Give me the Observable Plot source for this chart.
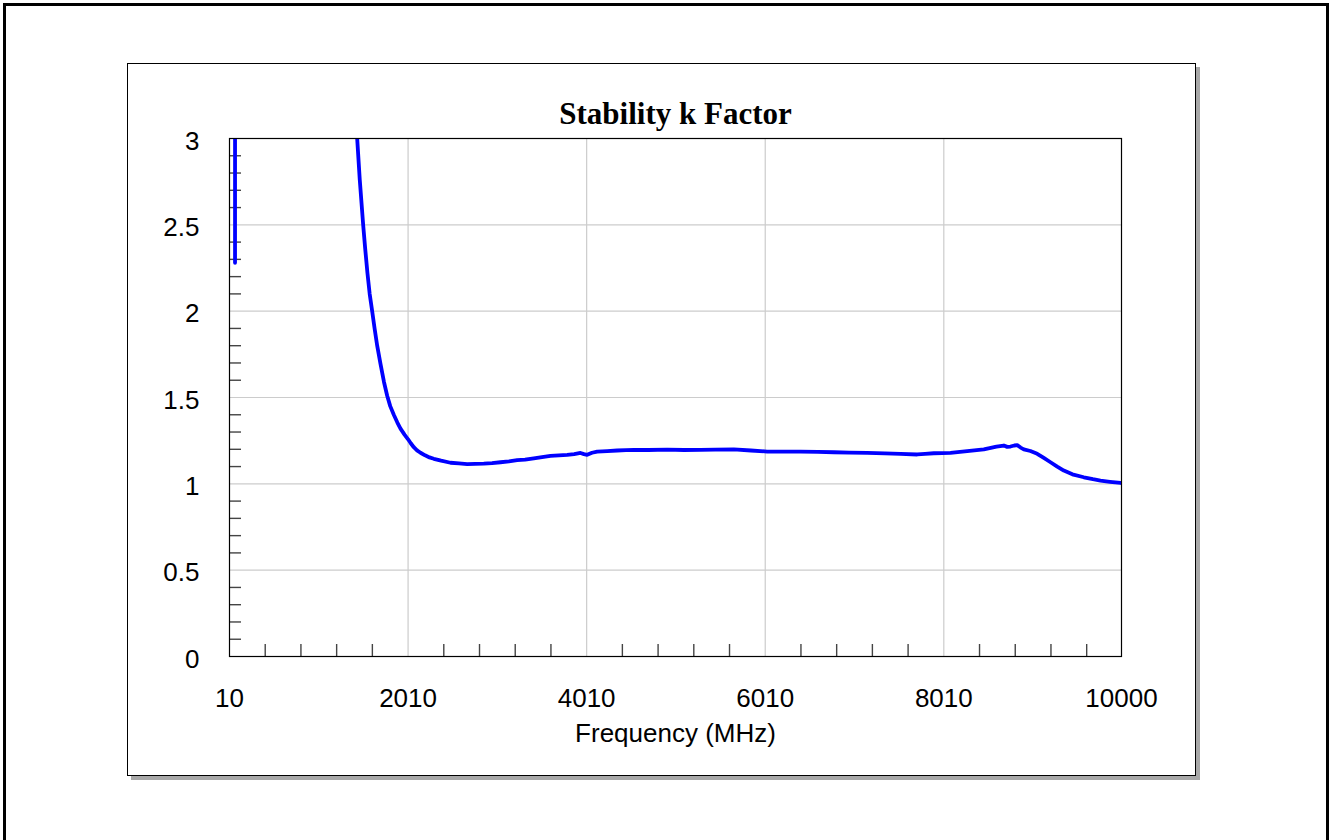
<!DOCTYPE html>
<html>
<head>
<meta charset="utf-8">
<script src="https://cdn.jsdelivr.net/npm/d3@7"></script>
<script src="https://cdn.jsdelivr.net/npm/@observablehq/plot@0.6"></script>
<style>
  html, body { margin: 0; padding: 0; background: #fff; overflow: hidden; }
  #page { position: relative; width: 1331px; height: 840px; overflow: hidden; }
  #outer { position: absolute; left: 3px; top: 3px; width: 1326px; height: 860px; box-sizing: border-box; border: 3px solid #000; }
  #inner { position: absolute; left: 127px; top: 63px; width: 1069px; height: 713px; box-sizing: border-box; border: 1px solid #000; background: #fff; box-shadow: 4px 4px 0 #a8a8a8; }
  #chart { position: absolute; left: 0; top: 0; }
</style>
</head>
<body>
<div id="page">
  <div id="outer"></div>
  <div id="inner"></div>
  <div id="chart"></div>
</div>
<script>
// Frequency (MHz) and stability factor k
const freqMHz = [72, 80, 300, 700, 1100, 1350, 1440, 1469, 1507, 1530, 1555, 1580, 1608, 1635, 1664, 1701, 1740, 1776, 1810, 1850, 1890, 1925, 1970, 2010, 2040, 2074, 2110, 2149, 2200, 2250, 2298, 2380, 2485, 2580, 2672, 2760, 2858, 2950, 3045, 3140, 3232, 3320, 3418, 3510, 3605, 3700, 3792, 3870, 3941, 3980, 4016, 4070, 4128, 4240, 4352, 4450, 4538, 4700, 4912, 5100, 5285, 5450, 5658, 5850, 6032, 6200, 6405, 6600, 6778, 6950, 7152, 7350, 7525, 7712, 7800, 7898, 8085, 8272, 8458, 8600, 8682, 8720, 8757, 8800, 8832, 8870, 8906, 8980, 9056, 9130, 9205, 9280, 9354, 9450, 9578, 9680, 9765, 9870, 9990];
const kFactor = [2.28, 50, 45, 20, 7, 3.7, 3.0, 2.76, 2.5, 2.36, 2.22, 2.1, 2.0, 1.9, 1.8, 1.695, 1.59, 1.51, 1.45, 1.4, 1.355, 1.32, 1.285, 1.258, 1.235, 1.212, 1.194, 1.18, 1.165, 1.153, 1.145, 1.134, 1.122, 1.118, 1.114, 1.116, 1.117, 1.12, 1.125, 1.13, 1.137, 1.14, 1.148, 1.155, 1.162, 1.165, 1.168, 1.172, 1.179, 1.172, 1.168, 1.18, 1.187, 1.19, 1.193, 1.195, 1.197, 1.196, 1.198, 1.196, 1.197, 1.198, 1.2, 1.193, 1.187, 1.187, 1.187, 1.185, 1.183, 1.181, 1.179, 1.176, 1.174, 1.17, 1.174, 1.177, 1.179, 1.189, 1.199, 1.215, 1.222, 1.214, 1.216, 1.222, 1.224, 1.21, 1.2, 1.19, 1.174, 1.15, 1.125, 1.1, 1.077, 1.055, 1.038, 1.027, 1.019, 1.012, 1.005];

const xTickLabels = [10, 2010, 4010, 6010, 8010, 10000];
const xGrid = [2010, 4010, 6010, 8010];
const xMinor = [410, 810, 1210, 1610, 2410, 2810, 3210, 3610, 4410, 4810, 5210, 5610, 6410, 6810, 7210, 7610, 8410, 8810, 9210, 9610];
const yTickLabels = [0, 0.5, 1, 1.5, 2, 2.5, 3];
const yGrid = [0.5, 1, 1.5, 2, 2.5];
const yMinor = [0.1, 0.2, 0.3, 0.4, 0.6, 0.7, 0.8, 0.9, 1.1, 1.2, 1.3, 1.4, 1.6, 1.7, 1.8, 1.9, 2.1, 2.2, 2.3, 2.4, 2.6, 2.7, 2.8, 2.9];

const titleText = "Stability k Factor";
const xLabelText = "Frequency (MHz)";

const data = freqMHz.map((f, i) => ({f, k: kFactor[i]}));

const chart = Plot.plot({
  width: 1331,
  height: 840,
  marginLeft: 229,
  marginRight: 210,
  marginTop: 138,
  marginBottom: 184,
  style: {background: "transparent", fontFamily: "'Liberation Sans', Arial, sans-serif", fontSize: "26px", color: "#000"},
  x: {domain: [10, 10000], axis: null},
  y: {domain: [0, 3], axis: null},
  marks: [
    Plot.gridX(xGrid, {stroke: "#cccccc", strokeOpacity: 1, strokeWidth: 1.2}),
    Plot.gridY(yGrid, {stroke: "#cccccc", strokeOpacity: 1, strokeWidth: 1.2}),
    Plot.axisX(xMinor, {anchor: "bottom", tickSize: -12, tickFormat: () => "", label: null, stroke: "#444", strokeWidth: 1.4}),
    Plot.axisY(yMinor, {anchor: "left", tickSize: -12, tickFormat: () => "", label: null, stroke: "#444", strokeWidth: 1.4}),
    Plot.axisX(xTickLabels, {anchor: "bottom", tickSize: 0, tickPadding: 32, tickFormat: d => String(d), label: null, fontSize: 26, fill: "#000"}),
    Plot.axisY(yTickLabels, {anchor: "left", tickSize: 0, tickPadding: 30, dy: 3, tickFormat: d => String(d), label: null, fontSize: 26, fill: "#000"}),
    Plot.line(data, {x: "f", y: "k", stroke: "#0000ff", strokeWidth: 3.8, clip: true, strokeLinejoin: "round", strokeLinecap: "round"}),
    Plot.frame({stroke: "#000", strokeWidth: 1.2}),
    Plot.text([titleText], {frameAnchor: "top", lineAnchor: "bottom", dy: -15, fontFamily: "'Liberation Serif', 'Times New Roman', serif", fontWeight: "bold", fontSize: 31, fill: "#000"}),
    Plot.text([xLabelText], {frameAnchor: "bottom", lineAnchor: "middle", dy: 77, fontSize: 26, fill: "#000"})
  ]
});
document.getElementById("chart").appendChild(chart);
</script>
</body>
</html>
